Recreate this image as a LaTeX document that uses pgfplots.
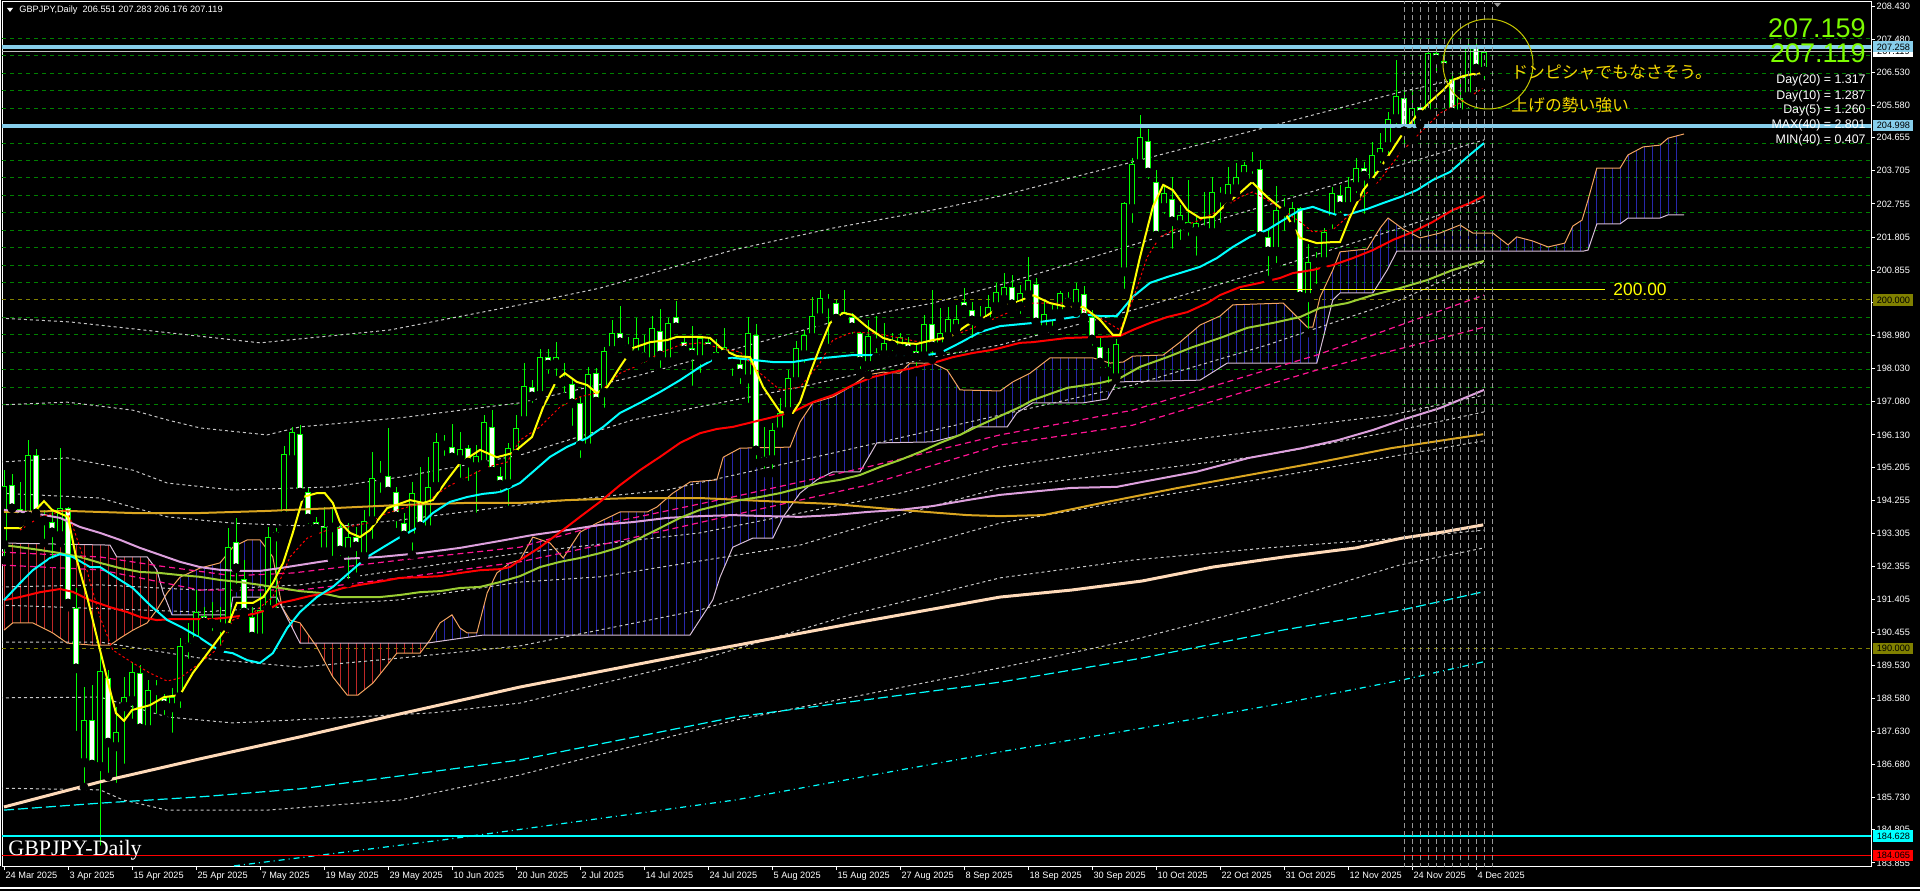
\documentclass[border=0pt]{standalone}
\usepackage{pgfplots}
\pgfplotsset{compat=1.18}
\usepackage{pgfplotstable}
\usepackage{fontspec}
\setmainfont{Liberation Sans}
\newfontfamily\seriffont{Liberation Serif}
\newfontfamily\cjk{Noto Sans CJK JP}

\definecolor{cgreen}{RGB}{0,255,0}
\definecolor{cyellow}{RGB}{255,255,0}
\definecolor{ccyan}{RGB}{0,255,255}
\definecolor{cred}{RGB}{255,0,0}
\definecolor{cyg}{RGB}{154,205,50}
\definecolor{cplum}{RGB}{221,160,221}
\definecolor{cgold}{RGB}{218,165,32}
\definecolor{cpeach}{RGB}{255,218,185}
\definecolor{csandy}{RGB}{244,164,96}
\definecolor{cthistle}{RGB}{216,191,216}
\definecolor{chblue}{RGB}{40,40,170}
\definecolor{chred}{RGB}{190,40,40}
\definecolor{csky}{RGB}{135,206,235}
\definecolor{colive}{RGB}{128,128,0}
\definecolor{cgrid}{RGB}{0,128,0}
\definecolor{cpink}{RGB}{255,20,147}
\definecolor{cgrey}{RGB}{192,192,192}
\definecolor{cdot}{RGB}{200,200,200}
\definecolor{cvgrey}{RGB}{150,150,150}
\definecolor{cbig}{RGB}{124,252,0}
\definecolor{cjp}{RGB}{245,215,0}
\definecolor{ccircle}{RGB}{200,200,0}

\pgfplotstableread{
i o h l c
0 192.97 195.12 192.54 194.66
1 194.69 195.01 193.78 194.01
2 194.01 194.78 193.60 193.75
3 193.78 195.98 193.60 195.55
4 195.55 195.73 193.78 193.86
5 193.70 193.98 193.03 193.66
6 193.63 193.92 192.46 193.32
7 193.23 195.75 193.03 194.03
8 194.03 194.06 191.19 191.28
9 191.17 191.74 187.52 189.42
10 186.72 188.90 186.03 187.95
11 187.95 188.96 186.58 186.66
12 186.61 189.87 184.23 189.36
13 189.16 189.39 186.32 187.29
14 187.18 188.33 186.03 187.61
15 188.33 189.19 186.58 188.61
16 188.50 189.62 187.87 189.33
17 189.30 189.53 187.52 187.70
18 187.67 189.10 187.47 188.81
19 188.79 189.10 188.01 188.87
20 188.59 188.70 187.98 188.36
21 188.30 188.87 187.47 188.61
22 188.61 190.31 188.18 190.08
23 190.02 190.74 189.59 190.16
24 190.19 191.68 190.05 191.05
25 190.94 191.19 190.62 190.74
26 190.74 191.34 190.39 190.71
27 190.60 191.19 189.96 190.64
28 190.59 193.46 190.33 192.92
29 193.06 193.75 191.74 192.29
30 192.00 192.54 190.91 191.02
31 190.91 191.19 190.30 190.33
32 190.30 191.60 190.30 191.11
33 191.11 193.49 190.91 193.20
34 193.20 193.46 191.05 193.35
35 193.80 195.81 193.63 195.58
36 195.41 196.36 195.35 196.21
37 196.16 196.41 194.35 194.46
38 194.49 194.61 193.46 193.72
39 193.63 193.78 193.20 193.43
40 192.77 194.06 192.74 193.49
41 193.49 194.06 192.54 193.46
42 193.49 193.60 192.54 192.80
43 192.77 193.60 191.88 193.20
44 193.20 193.49 192.06 192.92
45 192.63 193.98 192.54 193.66
46 193.66 195.64 193.03 194.89
47 194.89 195.38 194.35 194.95
48 194.95 196.33 194.46 194.49
49 194.49 194.64 193.34 193.78
50 193.60 193.89 193.20 193.23
51 193.17 194.78 192.69 194.46
52 194.21 195.21 193.40 193.49
53 193.40 195.50 193.26 194.64
54 194.64 196.18 194.61 195.93
55 195.87 196.13 195.41 195.81
56 195.78 196.44 195.32 195.47
57 195.41 196.21 194.78 195.73
58 195.75 195.84 194.69 195.32
59 195.21 195.84 193.78 195.53
60 195.27 196.70 195.21 196.50
61 196.36 196.84 195.04 195.07
62 194.95 195.21 194.35 194.69
63 194.72 195.90 193.98 195.75
64 195.55 196.70 195.32 196.33
65 196.53 198.19 196.36 197.53
66 197.50 197.70 196.93 197.22
67 197.25 198.59 197.05 198.36
68 198.36 198.59 197.76 198.13
69 198.16 198.79 197.70 198.36
70 197.76 198.19 197.22 197.65
71 197.59 197.73 196.27 197.02
72 197.05 197.22 195.35 195.81
73 195.75 198.08 195.69 197.87
74 197.90 198.05 196.90 197.07
75 197.33 198.65 196.79 198.54
76 198.54 199.42 198.48 199.05
77 199.05 199.83 198.71 198.77
78 198.71 198.94 198.42 198.57
79 198.42 199.48 198.19 198.91
80 198.48 198.99 198.08 198.34
81 198.22 199.54 198.14 199.20
82 199.11 199.74 197.93 198.39
83 198.22 199.48 198.19 199.34
84 199.51 199.97 199.14 199.20
85 198.80 198.90 198.51 198.54
86 198.62 199.25 197.42 198.42
87 198.28 198.97 197.79 198.91
88 198.79 198.94 198.36 198.59
89 198.51 198.88 198.22 198.34
90 198.42 199.20 198.28 198.65
91 198.22 198.36 197.70 198.16
92 198.16 198.33 197.47 197.88
93 197.73 199.51 196.93 199.05
94 198.99 199.31 195.32 195.67
95 195.50 196.36 195.04 195.35
96 195.41 196.47 195.04 196.27
97 196.21 197.19 196.04 196.76
98 196.79 197.99 196.64 197.76
99 197.65 198.82 197.62 198.62
100 198.42 199.14 198.08 198.99
101 198.91 200.09 198.85 199.54
102 199.48 200.29 199.37 200.06
103 199.91 200.17 198.62 199.88
104 199.91 200.00 199.40 199.45
105 199.43 200.29 199.37 199.65
106 199.51 199.63 198.91 199.20
107 199.05 199.08 197.90 198.22
108 198.11 199.42 197.85 198.97
109 198.77 199.54 198.36 198.74
110 198.42 199.34 198.33 198.77
111 198.74 199.05 198.42 198.68
112 198.59 199.05 198.36 198.94
113 198.77 198.94 198.36 198.54
114 198.54 198.71 197.93 198.34
115 198.39 199.57 198.33 199.31
116 199.31 200.29 198.28 198.65
117 198.65 199.77 198.48 199.05
118 198.94 199.80 198.79 199.45
119 199.17 199.86 199.08 199.45
120 199.94 200.34 199.63 199.71
121 199.71 199.94 198.79 199.40
122 199.37 199.83 199.20 199.48
123 199.37 200.14 199.34 199.80
124 199.80 200.49 199.63 200.23
125 200.00 200.77 199.80 200.37
126 200.37 200.72 199.71 199.86
127 199.80 200.43 199.48 200.20
128 200.14 201.23 199.91 200.57
129 200.46 200.63 199.23 199.34
130 199.14 200.00 199.08 199.60
131 199.57 199.86 199.14 199.60
132 199.60 200.26 199.43 200.20
133 200.06 200.23 199.71 199.91
134 199.80 200.49 199.63 200.31
135 200.17 200.40 199.37 199.48
136 199.51 199.71 198.57 198.85
137 198.65 198.94 197.93 198.19
138 198.08 198.62 197.50 197.93
139 197.76 198.88 197.70 198.74
140 200.80 202.81 200.20 202.78
141 202.61 204.07 202.09 203.90
142 203.90 205.30 203.73 204.67
143 204.56 204.90 203.35 203.64
144 203.38 203.73 201.78 201.83
145 202.64 203.30 202.35 203.07
146 202.90 203.53 201.35 202.24
147 202.15 202.72 201.60 202.44
148 202.24 203.44 201.72 202.06
149 201.95 202.44 201.15 202.21
150 202.06 203.10 201.81 201.98
151 201.92 203.53 201.81 203.10
152 203.01 203.24 202.09 202.92
153 202.90 203.81 202.67 203.33
154 203.18 203.93 203.07 203.53
155 203.53 203.96 203.44 203.87
156 203.93 204.24 203.50 203.81
157 203.75 204.01 201.66 201.81
158 201.81 202.06 200.57 201.38
159 201.38 203.27 200.94 202.58
160 202.52 202.92 201.86 202.64
161 202.09 202.81 201.92 202.64
162 202.64 202.67 199.91 200.09
163 200.06 201.60 199.05 201.09
164 201.09 201.38 200.34 201.06
165 201.09 202.06 200.86 201.95
166 202.29 203.24 201.92 203.07
167 203.01 203.30 202.38 202.67
168 202.67 203.53 202.58 203.24
169 203.24 204.07 202.95 203.78
170 203.78 203.96 202.35 203.55
171 203.35 204.53 203.15 204.16
172 204.10 204.79 203.81 204.36
173 204.39 205.39 204.01 205.19
174 205.19 206.88 204.82 205.85
175 205.79 206.08 204.24 204.82
176 204.79 205.96 204.59 205.50
177 205.53 205.59 205.02 205.30
178 205.33 207.25 205.25 207.08
179 207.08 207.11 206.39 206.88
180 206.85 207.08 206.54 206.65
181 206.34 206.51 205.22 205.36
182 205.33 206.31 205.30 205.79
183 205.82 207.34 205.65 207.25
184 207.25 207.34 206.31 206.62
185 206.551 207.283 206.176 207.119
}\candles

\begin{document}
\begin{tikzpicture}
\fill[black] (0,0) rectangle (960pt,445.5pt);
\begin{axis}[
  at={(1pt,12.5pt)}, anchor=south west,
  scale only axis, width=934.5pt, height=432pt,
  xmin=-0.25, xmax=233.375, ymin=183.767, ymax=208.545,
  axis line style={draw=white, line width=0.5pt},
  tick style={draw=white, line width=0.5pt},
  tick align=outside, major tick length=2pt,
  xtick pos=bottom, ytick pos=right, yticklabel pos=right,
  xtick={0,8,...,184},
  xticklabels={24 Mar 2025,3 Apr 2025,15 Apr 2025,25 Apr 2025,7 May 2025,19 May 2025,29 May 2025,10 Jun 2025,20 Jun 2025,2 Jul 2025,14 Jul 2025,24 Jul 2025,5 Aug 2025,15 Aug 2025,27 Aug 2025,8 Sep 2025,18 Sep 2025,30 Sep 2025,10 Oct 2025,22 Oct 2025,31 Oct 2025,12 Nov 2025,24 Nov 2025,4 Dec 2025},
  ytick={208.430,207.480,206.530,205.580,204.655,203.705,202.755,201.805,200.855,199.930,198.980,198.030,197.080,196.130,195.205,194.255,193.305,192.355,191.405,190.455,189.530,188.580,187.630,186.680,185.730,184.805,183.855},
  yticklabels={208.430,207.480,206.530,205.580,204.655,203.705,202.755,201.805,200.855,199.930,198.980,198.030,197.080,196.130,195.205,194.255,193.305,192.355,191.405,190.455,189.530,188.580,187.630,186.680,185.730,184.805,183.855},
  ticklabel style={font=\fontsize{4.6pt}{5pt}\selectfont, text=white, inner sep=0pt},
  xticklabel style={anchor=north west, xshift=0.6pt, yshift=-0.6pt},
  yticklabel style={anchor=west, xshift=0.6pt},
  grey/.style={cdot, line width=0.5pt, dash pattern=on 1.5pt off 1.5pt},
  pinkd/.style={cpink, line width=0.6pt, dash pattern=on 3pt off 2pt},
]
% green dashed grid
\pgfplotsinvokeforeach{197,197.5,...,207.5}{
  \draw[cgrid, line width=0.5pt, dash pattern=on 2pt off 2pt] (axis cs:-0.25,#1) -- (axis cs:233.375,#1);
}
\draw[colive, line width=0.5pt, dash pattern=on 2pt off 2pt] (axis cs:-0.25,200) -- (axis cs:233.375,200);
\draw[colive, line width=0.5pt, dash pattern=on 2pt off 2pt] (axis cs:-0.25,190) -- (axis cs:233.375,190);

% Ichimoku cloud hatching: one line per bar, clipped to the region between the spans
\begin{scope}
\clip (0,190.53) -- (1.1,190.74) -- (3.6,190.74) -- (6.1,190.45) -- (7.9,190.16) -- (11.1,190.10) -- (13.25,190.10) -- (14.5,190.30) -- (16.1,190.53) -- (17.9,190.74) -- (19.1,191.11) -- (20.4,191.60) -- (22,192.05) -- (24.5,192.31) -- (27,192.46) -- (28.6,192.91) -- (30.4,193.12) -- (32,193.12) -- (33.6,192.63) -- (34.75,191.19) -- (35.75,190.82) -- (37,190.74) -- (39.1,190.05) -- (41.1,189.19) -- (42.9,188.67) -- (44.25,188.67) -- (46.1,189.01) -- (49.1,189.87) -- (52,189.87) -- (53.25,190.25) -- (54.5,190.74) -- (56,190.97) -- (57,190.59) -- (57.9,190.45) -- (59.1,190.45) -- (60.4,191.60) -- (61.6,192.17) -- (63.25,192.46) -- (64.5,192.54) -- (66.1,193.20) -- (68.25,193.03) -- (69.9,192.60) -- (72,193.34) -- (74.1,193.60) -- (77,193.92) -- (80.4,193.92) -- (81.6,194.06) -- (83.6,194.46) -- (85.75,194.78) -- (89.1,194.84) -- (89.9,195.49) -- (92,195.75) -- (98.25,195.78) -- (99.5,196.50) -- (101.1,197.05) -- (103.6,197.22) -- (105.75,197.50) -- (107.9,197.85) -- (109.9,197.93) -- (112,197.90) -- (113.25,198.19) -- (116.1,198.19) -- (117.9,197.99) -- (119.5,197.42) -- (124.5,197.39) -- (126.1,197.65) -- (128.25,197.90) -- (130.75,198.34) -- (136.1,198.34) -- (138.25,198.19) -- (139.9,198.22) -- (141.1,198.39) -- (144.9,198.42) -- (147,198.79) -- (149.5,199.28) -- (152,199.54) -- (153.6,199.86) -- (159.9,199.91) -- (162.9,199.22) -- (163.6,199.22) -- (164.5,200.08) -- (166.1,200.86) -- (167,201.38) -- (170.4,201.46) -- (172,202.06) -- (173,202.35) -- (174.9,202.03) -- (177,201.78) -- (179.5,201.92) -- (182,202.15) -- (183.6,201.92) -- (186.1,201.92) -- (188,201.58) -- (189.1,201.81) -- (191.1,201.69) -- (193,201.52) -- (195.1,201.63) -- (196.1,202.12) -- (197.25,202.29) -- (198,202.87) -- (199.1,203.78) -- (202,203.78) -- (203,204.16) -- (204.9,204.39) -- (207,204.44) -- (208,204.64) -- (210,204.76)
 -- (210,202.44) -- (208,202.44) -- (207,202.35) -- (203,202.35) -- (202,202.18) -- (199.1,202.18) -- (198,201.43) -- (197.4,201.40) -- (174.1,201.40) -- (172.9,200.86) -- (171.1,200.20) -- (167,200.20) -- (166.1,200.00) -- (164.1,198.19) -- (152.9,198.19) -- (149.5,197.70) -- (139.1,197.65) -- (137.9,197.16) -- (134.9,197.05) -- (128.6,197.05) -- (126.6,196.76) -- (125.4,196.36) -- (121.1,196.36) -- (119.5,196.13) -- (116.1,195.93) -- (109.1,195.90) -- (107,195.07) -- (103.6,195.07) -- (101.6,194.84) -- (99.5,194.46) -- (97.4,193.78) -- (96.1,193.17) -- (93.6,193.17) -- (91.1,192.91) -- (89.5,192.05) -- (88.6,191.40) -- (85.75,190.39) -- (59.9,190.39) -- (52.9,190.16) -- (37,190.16) -- (35.1,191.02) -- (34.1,191.48) -- (28.6,191.48) -- (28.25,190.97) -- (21,190.97) -- (19.9,191.60) -- (19.1,192.26) -- (17.9,192.63) -- (14.1,192.63) -- (13.25,192.97) -- (0,193.03) -- cycle;
\pgfplotsinvokeforeach{0,...,20}{\draw[chred, line width=0.5pt] (#1,183.7) -- (#1,208.6);}
\pgfplotsinvokeforeach{21,...,34}{\draw[chblue, line width=0.5pt] (#1,183.7) -- (#1,208.6);}
\pgfplotsinvokeforeach{35,...,52}{\draw[chred, line width=0.5pt] (#1,183.7) -- (#1,208.6);}
\pgfplotsinvokeforeach{53,...,210}{\draw[chblue, line width=0.5pt] (#1,183.7) -- (#1,208.6);}
\end{scope}

\addplot[csandy, line width=0.5pt] coordinates {
(0,190.53) (1.1,190.74) (3.6,190.74) (6.1,190.45) (7.9,190.16) (11.1,190.10) (13.25,190.10) (14.5,190.30) (16.1,190.53) (17.9,190.74) (19.1,191.11) (20.4,191.60) (22,192.05) (24.5,192.31) (27,192.46) (28.6,192.91) (30.4,193.12) (32,193.12) (33.6,192.63) (34.75,191.19) (35.75,190.82) (37,190.74) (39.1,190.05) (41.1,189.19) (42.9,188.67) (44.25,188.67) (46.1,189.01) (49.1,189.87) (52,189.87) (53.25,190.25) (54.5,190.74) (56,190.97) (57,190.59) (57.9,190.45) (59.1,190.45) (60.4,191.60) (61.6,192.17) (63.25,192.46) (64.5,192.54) (66.1,193.20) (68.25,193.03) (69.9,192.60) (72,193.34) (74.1,193.60) (77,193.92) (80.4,193.92) (81.6,194.06) (83.6,194.46) (85.75,194.78) (89.1,194.84) (89.9,195.49) (92,195.75) (98.25,195.78) (99.5,196.50) (101.1,197.05) (103.6,197.22) (105.75,197.50) (107.9,197.85) (109.9,197.93) (112,197.90) (113.25,198.19) (116.1,198.19) (117.9,197.99) (119.5,197.42) (124.5,197.39) (126.1,197.65) (128.25,197.90) (130.75,198.34) (136.1,198.34) (138.25,198.19) (139.9,198.22) (141.1,198.39) (144.9,198.42) (147,198.79) (149.5,199.28) (152,199.54) (153.6,199.86) (159.9,199.91) (162.9,199.22) (163.6,199.22) (164.5,200.08) (166.1,200.86) (167,201.38) (170.4,201.46) (172,202.06) (173,202.35) (174.9,202.03) (177,201.78) (179.5,201.92) (182,202.15) (183.6,201.92) (186.1,201.92) (188,201.58) (189.1,201.81) (191.1,201.69) (193,201.52) (195.1,201.63) (196.1,202.12) (197.25,202.29) (198,202.87) (199.1,203.78) (202,203.78) (203,204.16) (204.9,204.39) (207,204.44) (208,204.64) (210,204.76)};
\addplot[cthistle, line width=0.5pt] coordinates {
(0,193.03) (13.25,192.97) (14.1,192.63) (17.9,192.63) (19.1,192.26) (19.9,191.60) (21,190.97) (28.25,190.97) (28.6,191.48) (34.1,191.48) (35.1,191.02) (37,190.16) (52.9,190.16) (59.9,190.39) (85.75,190.39) (88.6,191.40) (89.5,192.05) (91.1,192.91) (93.6,193.17) (96.1,193.17) (97.4,193.78) (99.5,194.46) (101.6,194.84) (103.6,195.07) (107,195.07) (109.1,195.90) (116.1,195.93) (119.5,196.13) (121.1,196.36) (125.4,196.36) (126.6,196.76) (128.6,197.05) (134.9,197.05) (137.9,197.16) (139.1,197.65) (149.5,197.70) (152.9,198.19) (164.1,198.19) (166.1,200.00) (167,200.20) (171.1,200.20) (172.9,200.86) (174.1,201.40) (197.4,201.40) (198,201.43) (199.1,202.18) (202,202.18) (203,202.35) (207,202.35) (208,202.44) (210,202.44)};

% envelope / band lines (grey dotted)
\addplot[grey] coordinates {(-0.5,199.48) (8.25,199.37) (17.4,199.14) (32,198.77) (48.25,199.14) (64.5,199.86) (74.5,200.34) (91.1,201.43) (103.6,202.06) (116.1,202.58) (124.5,202.98) (141.1,203.96) (157.9,204.96) (174.5,205.96) (185,206.51)};
\addplot[grey] coordinates {(-0.5,196.99) (7.9,197.07) (16.1,196.84) (20.4,196.56) (24.5,196.33) (32.9,196.13) (37,196.36) (49.5,196.62) (64.5,197.05) (78.6,197.79) (95.4,198.85) (103.6,199.37) (116.1,199.91) (124.5,200.43) (141.1,201.58) (157.9,202.72) (174.5,203.87) (185,204.59)};
\addplot[grey] coordinates {(-0.5,195.35) (7.9,195.47) (16.1,195.12) (20.4,194.75) (28.6,194.55) (41.1,194.64) (49.5,194.92) (64.5,195.55) (78.6,196.56) (99.5,197.50) (116.1,198.36) (124.5,198.71) (141.1,199.71) (157.9,200.86) (174.5,202.06) (185,202.87)};
\addplot[grey] coordinates {(-0.5,194.46) (12,194.32) (20.4,193.78) (28.6,193.60) (41.1,193.49) (49.5,193.69) (64.5,194.12) (82.9,194.55) (103.6,195.61) (124.5,196.70) (141.1,197.56) (157.9,198.71) (174.5,200.00) (185,201.09)};
\addplot[grey] coordinates {(-0.5,191.77) (12,191.83) (24.5,191.68) (37,191.83) (49.5,192.26) (64.5,192.74) (87,193.32) (112,194.46) (124.5,195.21) (141.1,195.78) (157.9,196.27) (173.4,196.70) (185,197.27)};
\addplot[grey] coordinates {(-0.5,191.25) (24.5,191.05) (49.5,191.40) (64.5,191.91) (74.5,192.06) (99.5,192.97) (112,193.83) (124.5,194.61) (141.1,195.07) (157.9,195.55) (174.5,196.27) (185,196.79)};
\addplot[grey] coordinates {(-0.5,190.19) (12,190.19) (24.5,189.73) (37,189.47) (49.5,189.73) (64.5,190.08) (87,191.11) (105.75,192.40) (124.5,193.60) (141.1,194.26) (157.9,194.89) (174.5,195.55) (185,195.96)};
\addplot[grey] coordinates {(-0.5,188.59) (12,188.61) (20.4,188.04) (28.6,187.87) (41.1,188.01) (53.6,188.16) (64.5,188.44) (87,189.68) (105.75,190.97) (124.5,192.03) (141.1,192.54) (157.9,192.89) (174.5,193.17) (185,193.40)};
\addplot[grey] coordinates {(-0.5,186.00) (12,185.95) (14.9,185.66) (20.4,185.37) (32.9,185.37) (49.5,185.66) (64.5,186.38) (91.4,187.95) (124.5,189.45) (141.1,190.25) (157.9,191.25) (174.5,192.40) (185,192.89)};
% pink dashed
\addplot[pinkd] coordinates {(-0.5,192.77) (12,192.63) (19.5,192.37) (28.6,192.09) (36.1,192.17) (49.5,192.54) (64.5,192.91) (74.5,193.55) (91.1,194.35) (107.9,195.21) (124.5,196.13) (141.1,196.84) (164.1,198.42) (185,200.14)};
\addplot[pinkd] coordinates {(-0.5,192.40) (12,192.26) (24.5,191.68) (37,191.68) (49.5,192.03) (64.5,192.49) (74.5,192.97) (91.1,193.83) (107.9,194.69) (124.5,195.84) (141.1,196.41) (151.6,197.13) (164.1,197.99) (185,199.22)};

% long-term dashed cyan
\addplot[ccyan, line width=0.6pt, dash pattern=on 5pt off 2pt] coordinates {
(0,185.37) (12,185.57) (24.5,185.75) (37,185.98) (49.5,186.35) (64.5,186.81) (91.4,188.04) (124.5,189.04) (142.25,189.73) (160,190.54) (174.75,191.11) (184.9,191.63)};
\addplot[ccyan, line width=0.6pt, dash pattern=on 3pt off 2pt on 0.5pt off 2pt] coordinates {
(28.75,183.77) (55,184.52) (91.4,185.66) (124.5,187.04) (142.25,187.72) (160,188.44) (174.75,189.10) (184.9,189.62)};

% candles: wicks, bodies, fills
\addplot[only marks, mark=none, error bars/.cd, y dir=plus, y explicit, error mark=none,
  error bar style={draw=cgreen, line width=0.5pt, line cap=butt}]
  table[x=i, y=l, y error plus expr=\thisrow{h}-\thisrow{l}] {\candles};
\addplot[only marks, mark=none, error bars/.cd, y dir=plus, y explicit, error mark=none,
  error bar style={draw=cgreen, line width=2.6pt, line cap=butt}]
  table[x=i, y expr={min(\thisrow{o},\thisrow{c})}, y error plus expr={max(abs(\thisrow{c}-\thisrow{o}),0.03)}] {\candles};
\addplot[only marks, mark=none, error bars/.cd, y dir=plus, y explicit, error mark=none,
  error bar style={draw=white, line width=1.6pt, line cap=butt}]
  table[x=i, y expr={min(\thisrow{o},\thisrow{c})+0.0287}, y error plus expr={(\thisrow{c}<\thisrow{o})*max(\thisrow{o}-\thisrow{c}-0.0574,0)}] {\candles};
\addplot[only marks, mark=none, error bars/.cd, y dir=plus, y explicit, error mark=none,
  error bar style={draw=black, line width=1.6pt, line cap=butt}]
  table[x=i, y expr={min(\thisrow{o},\thisrow{c})+0.0287}, y error plus expr={(\thisrow{c}>\thisrow{o})*max(\thisrow{c}-\thisrow{o}-0.0574,0)}] {\candles};

% moving averages
\addplot[cpeach, line width=1.5pt] coordinates {
(0,185.46) (12,186.18) (24.5,186.84) (37,187.47) (49.5,188.13) (64.5,188.90) (87,189.90) (105.75,190.71) (124.5,191.48) (133.4,191.68) (142.25,191.94) (151.1,192.34) (160,192.63) (169,192.89) (174.75,193.17) (180,193.35) (184.9,193.55)};
\addplot[cgold, line width=1pt] coordinates {
(0,193.92) (7.9,193.95) (16.1,193.89) (24.5,193.89) (32.9,193.95) (41.1,194.03) (49.5,194.12) (57.9,194.18) (64.5,194.18) (70.4,194.26) (78.6,194.32) (87,194.32) (95.4,194.23) (103.6,194.15) (112,193.98) (120.4,193.83) (124.5,193.80) (129.9,193.83) (137.9,194.21) (146.75,194.61) (155.6,194.98) (164.5,195.35) (173.4,195.75) (180,195.98) (184.9,196.15)};
\addplot[cplum, line width=1pt] coordinates {
(0,193.98) (3.6,193.89) (7,193.75) (9.5,193.49) (12,193.32) (14.5,193.12) (17,192.89) (19.5,192.69) (22,192.49) (24.5,192.34) (27,192.26) (29.5,192.23) (32,192.23) (34.5,192.31) (37,192.40) (39.5,192.49) (42,192.57) (47,192.63) (52,192.74) (57,192.89) (62,193.09) (66.1,193.26) (70.4,193.40) (74.5,193.55) (78.6,193.63) (82.9,193.75) (87,193.80) (91.1,193.83) (95.4,193.80) (99.5,193.78) (103.6,193.83) (107.9,193.92) (112,193.98) (116.1,194.09) (120.4,194.26) (124.5,194.41) (133.4,194.61) (139.1,194.64) (142.25,194.78) (149,195.07) (155.6,195.47) (162.25,195.75) (166.75,195.98) (171.1,196.27) (174.75,196.56) (179.5,196.90) (185,197.42)};
\addplot[cyg, line width=1pt] coordinates {
(0,192.97) (2,192.91) (4.5,192.83) (7,192.74) (9.5,192.63) (12,192.46) (14.5,192.31) (17,192.20) (19.5,192.17) (22,192.11) (24.5,192.06) (27,191.97) (29.5,191.91) (32,191.83) (34.5,191.74) (37,191.65) (39.5,191.60) (42,191.48) (44.5,191.48) (47,191.48) (49.5,191.54) (52,191.62) (54.5,191.65) (57,191.74) (59.5,191.77) (62,191.91) (64.5,192.08) (67,192.34) (69.5,192.49) (72,192.60) (74.5,192.74) (77,192.91) (79.5,193.17) (82,193.46) (84.5,193.75) (87,193.98) (89.5,194.12) (92,194.26) (94.5,194.35) (97,194.46) (99.5,194.61) (102,194.75) (104.5,194.84) (107,194.98) (109.5,195.21) (112,195.41) (114.5,195.64) (117,195.90) (119.5,196.13) (122,196.41) (124.5,196.67) (127,196.93) (128.6,197.13) (132.9,197.48) (137,197.62) (139.5,197.76) (142,198.08) (145.4,198.36) (148.6,198.65) (152,198.91) (155.4,199.20) (158.6,199.34) (162,199.51) (164.5,199.77) (167.9,199.91) (171.1,200.14) (174.5,200.34) (177.9,200.57) (181.1,200.86) (185,201.12)};
\addplot[cred, line width=1pt] coordinates {
(0,191.39) (2,191.48) (4.5,191.62) (7,191.71) (8.6,191.63) (10.75,191.39) (13.25,191.19) (15.4,191.05) (17,190.91) (19.1,190.82) (21.1,190.85) (26.1,190.85) (28.6,190.91) (31.1,190.99) (32.9,191.11) (34.5,191.31) (36.1,191.39) (38.25,191.51) (40.4,191.60) (42.4,191.74) (44.5,191.83) (47.4,191.94) (49.5,192.03) (52,192.05) (54.5,192.08) (57,192.17) (59.5,192.25) (62,192.28) (63.25,192.34) (64.5,192.54) (67,192.91) (69.5,193.34) (72,193.78) (74.5,194.21) (77,194.69) (79.5,195.12) (82,195.50) (84.5,195.90) (87,196.18) (89.1,196.30) (91.1,196.36) (93.6,196.50) (96.1,196.64) (98.6,196.79) (101.1,197.07) (103.6,197.27) (106.1,197.56) (108.6,197.79) (111.1,197.93) (113.6,198.05) (116.1,198.19) (118.6,198.36) (121.1,198.48) (123.6,198.57) (127,198.77) (128.6,198.79) (132.9,198.91) (137,198.94) (139.5,198.97) (141.1,199.14) (143.25,199.34) (145.4,199.51) (147.9,199.65) (150.4,199.91) (152,200.14) (154.5,200.37) (157,200.49) (159.5,200.63) (161.1,200.77) (163.6,200.86) (166.1,201.00) (168.6,201.20) (171.1,201.43) (173.6,201.72) (176.1,201.95) (178.6,202.24) (181.1,202.58) (183.25,202.78) (185,202.98)};
\addplot[ccyan, line width=1pt] coordinates {
(0,191.39) (2,191.88) (3.6,192.25) (5.75,192.60) (7,192.71) (8.6,192.63) (10.75,192.34) (12,192.34) (14.1,192.03) (16.1,191.74) (18.25,191.25) (20.4,190.82) (22.4,190.59) (24.5,190.31) (27,189.93) (28.6,189.87) (30.4,189.67) (32,189.59) (33.6,189.87) (35.4,190.59) (37,191.05) (39.1,191.48) (41.1,191.77) (43.25,192.20) (45.4,192.63) (47.4,192.91) (49.5,193.20) (51.6,193.46) (53.6,193.89) (55.75,194.21) (57.9,194.35) (59.9,194.44) (62,194.49) (64.5,194.75) (66.1,195.07) (68.25,195.50) (70.4,195.79) (72.9,196.04) (74.9,196.36) (77,196.76) (79.5,197.05) (82,197.36) (84.5,197.70) (87,198.08) (88.6,198.28) (91.1,198.34) (93.6,198.28) (96.1,198.22) (98.6,198.22) (101.1,198.31) (103.6,198.36) (106.1,198.42) (108.6,198.42) (112,198.39) (114.5,198.39) (117,198.48) (119.5,198.77) (122,199.08) (124.5,199.25) (128.6,199.34) (132.9,199.48) (135.4,199.57) (137,199.54) (139.1,199.54) (141.1,200.09) (143.25,200.49) (145.4,200.66) (147.4,200.80) (149.5,200.95) (151.6,201.20) (153.6,201.52) (155.75,201.81) (157.9,202.01) (159.9,202.29) (162,202.58) (163.6,202.67) (165.4,202.52) (167,202.41) (168.6,202.49) (170.4,202.61) (172.4,202.78) (174.5,202.95) (176.6,203.15) (178.6,203.44) (180.75,203.67) (182.9,204.10) (185,204.50)};
\addplot[cred, line width=0.5pt, dash pattern=on 1.2pt off 1.2pt] coordinates {
(2,193.40) (4.5,193.78) (7.9,193.98) (9.9,192.63) (12,190.91) (13.6,189.96) (16.1,189.59) (18.25,189.30) (20.4,189.07) (22,189.16) (24.5,189.59) (27,190.05) (28.6,190.82) (31.1,191.02) (33.6,191.48) (35.75,192.63) (37.9,193.17) (40.4,193.40) (42.9,193.49) (45.4,193.60) (47.9,193.89) (50.4,194.06) (52.9,194.21) (55.4,194.64) (57.9,194.92) (60.4,195.21) (62.9,195.35) (64.5,195.98) (67,196.36) (69.5,196.93) (72,197.22) (74.5,197.36) (77,197.90) (79.5,198.14) (82,198.48) (84.5,198.71) (87,198.77) (89.5,198.62) (92,198.51) (94.5,197.90) (97,197.42) (99.5,197.50) (102,198.19) (103.6,198.85) (106.1,199.08) (108.6,199.05) (112,198.91) (114.5,198.79) (117,198.85) (119.5,199.05) (122,199.28) (124.5,199.54) (128.6,199.91) (132.9,199.91) (137,199.48) (139.5,199.14) (141.1,200.00) (142.9,201.23) (144.5,201.81) (147,202.09) (149.5,202.29) (152,202.58) (154.5,202.95) (156.1,203.10) (157.9,202.87) (160.4,202.49) (162,202.24) (163.6,201.95) (166.1,202.01) (167.9,202.38) (169.5,202.87) (172,203.44) (174.5,204.21) (177,204.79) (179.5,205.36) (182,205.65) (184.9,206.08)};
\addplot[cyellow, line width=1pt] coordinates {
(0,193.46) (2,193.46) (3.6,193.89) (5,194.23) (6,193.98) (8,193.78) (9,192.63) (10.4,191.48) (12,189.96) (13.25,188.81) (14,188.15) (15,187.93) (16,188.24) (18.25,188.38) (20,188.61) (22,188.67) (23.6,189.30) (25.75,189.96) (27.9,190.62) (29.1,191.31) (31.1,191.31) (32.4,191.48) (33.6,191.88) (34.9,192.46) (36.1,193.32) (37.4,194.35) (39.1,194.46) (40.1,194.46) (41.1,194.18) (42,193.63) (43.25,193.32) (44.5,193.20) (45.75,193.40) (47.9,194.03) (50.75,194.26) (52.4,194.18) (53.6,194.26) (55.4,194.84) (57,195.32) (59.5,195.70) (61.6,195.49) (63.6,195.61) (66,196.07) (67.4,196.93) (69.1,197.70) (70.1,197.90) (71.6,197.65) (72.9,197.56) (74.1,197.33) (75.4,197.50) (77,198.08) (78.6,198.62) (80.75,198.79) (82.9,198.85) (84.1,198.94) (87,198.94) (88.25,198.91) (89.9,198.57) (91.6,198.39) (93.25,198.36) (94.9,197.50) (97,196.79) (98.6,196.76) (99.5,197.07) (100.75,197.90) (102,198.65) (103.25,199.34) (104.9,199.63) (106.1,199.57) (107.9,199.22) (109.9,198.91) (112,198.77) (114.1,198.74) (116.1,198.85) (118.25,198.94) (120.4,199.28) (122.4,199.48) (124.5,199.80) (126.6,199.94) (128.6,200.14) (130.75,199.91) (132.9,199.80) (134.9,199.80) (137,199.43) (138.6,199.00) (139.5,199.00) (140.4,199.63) (142,201.23) (143.6,202.67) (144.9,203.30) (146.1,203.15) (147.9,202.58) (149.5,202.35) (151.1,202.38) (152.9,202.78) (154.5,203.07) (156,203.38) (157.9,202.95) (159.9,202.58) (162,201.78) (164.1,201.63) (166.1,201.66) (167,201.66) (168.25,202.38) (169.9,203.15) (171.6,203.64) (173.25,204.21) (174.9,204.79) (176.6,205.30) (178.25,205.68) (179.9,206.02) (181.1,206.31) (182.4,206.42) (183.6,206.48) (184.9,206.51)};

% horizontal objects
\addplot[cyellow, line width=0.6pt] coordinates {(154.5,200.31) (200.1,200.31)};
\draw[cgrey, line width=0.5pt] (axis cs:-0.25,207.119) -- (axis cs:233.375,207.119);
\draw[csky, line width=2pt] (axis cs:-0.25,207.258) -- (axis cs:233.375,207.258);
\draw[csky, line width=2pt] (axis cs:-0.25,204.998) -- (axis cs:233.375,204.998);
\draw[ccyan, line width=1.2pt] (axis cs:-0.25,184.628) -- (axis cs:233.375,184.628);
\draw[cred, line width=0.6pt] (axis cs:-0.25,184.065) -- (axis cs:233.375,184.065);
\pgfplotsinvokeforeach{175,...,186}{
  \draw[cvgrey, line width=0.5pt, dash pattern=on 2.5pt off 1.5pt] (axis cs:#1,183.7) -- (axis cs:#1,208.6);
}
\end{axis}

\begin{scope}[x=0.5pt,y=-0.5pt,yshift=445.5pt]
  \draw[white, line width=0.5pt] (0.5,0) -- (0.5,866);
  % header
  \fill[white] (7,8) -- (13,8) -- (10,12) -- cycle;
  \node[anchor=west, inner sep=0pt, text=white, font=\fontsize{4.6pt}{5pt}\selectfont] at (19,10) {GBPJPY,Daily\ \ 206.551 207.283 206.176 207.119};
  \fill[cvgrey] (1494,3) -- (1501,3) -- (1497.5,7) -- cycle;
  % annotation
  \draw[ccircle, line width=0.5pt] (1488,64) circle (45);
  \node[anchor=west, inner sep=0pt, text=cjp, font=\cjk\fontsize{8.4pt}{9pt}\selectfont] at (1511,72) {ドンピシャでもなさそう。};
  \node[anchor=west, inner sep=0pt, text=cjp, font=\cjk\fontsize{8.4pt}{9pt}\selectfont] at (1511,105) {上げの勢い強い};
  \node[anchor=west, inner sep=0pt, text=cyellow, font=\fontsize{8.7pt}{9pt}\selectfont] at (1613,290) {200.00};
  % big price
  \node[anchor=east, inner sep=0pt, text=cbig, font=\fontsize{13.5pt}{14pt}\selectfont] at (1866,28) {207.159};
  \node[anchor=east, inner sep=0pt, text=cbig, font=\fontsize{13.5pt}{14pt}\selectfont] at (1866,53) {207.119};
  \foreach \yy/\tt in {80/Day(20) = 1.317, 96/Day(10) = 1.287, 110/Day(5) = 1.260, 125/MAX(40) = 2.801, 140/MIN(40) = 0.407}{
    \node[anchor=east, inner sep=0pt, text=white, font=\fontsize{6.2pt}{7pt}\selectfont] at (1866,\yy) {\tt};
  }
  % right axis price boxes
  \tikzset{pbox/.style={anchor=west, inner xsep=1pt, inner ysep=0pt, minimum height=5.6pt, minimum width=20pt, font=\fontsize{4.6pt}{5pt}\selectfont}}
  \node[pbox, fill=white, text=black] at (1873,51.7) {207.119};
  \node[pbox, fill=csky, text=black] at (1873,46.9) {207.258};
  \node[pbox, fill=csky, text=black] at (1873,125.7) {204.998};
  \node[pbox, fill=colive, text=black] at (1873,300) {200.000};
  \node[pbox, fill=colive, text=black] at (1873,648.7) {190.000};
  \node[pbox, fill=ccyan, text=black] at (1873,836) {184.628};
  \node[pbox, fill=cred, text=black] at (1873,855.6) {184.065};
  % symbol label
  \node[anchor=base west, inner sep=0pt, text=white, font=\seriffont\fontsize{11pt}{12pt}\selectfont] at (8,855) {GBPJPY-Daily};
  % bottom bar
  \draw[white, line width=1pt] (0,888) -- (1920,888);
\end{scope}
\pgfresetboundingbox
\useasboundingbox (0,0) rectangle (960pt,445.5pt);
\end{tikzpicture}
\end{document}
